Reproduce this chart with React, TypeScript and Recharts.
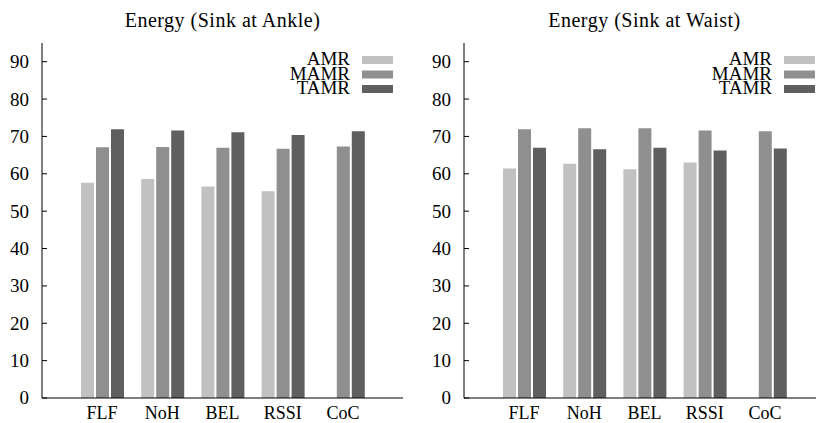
import { Bar, BarChart, Legend, XAxis, YAxis } from 'recharts'

const categories = ['FLF', 'NoH', 'BEL', 'RSSI', 'CoC']

const ankleAMR = [57.6, 58.6, 56.6, 55.3, null]
const ankleMAMR = [67.1, 67.2, 67.0, 66.7, 67.3]
const ankleTAMR = [71.9, 71.6, 71.1, 70.4, 71.4]

const waistAMR = [61.4, 62.7, 61.2, 63.0, null]
const waistMAMR = [71.9, 72.2, 72.2, 71.6, 71.4]
const waistTAMR = [67.0, 66.6, 67.0, 66.2, 66.8]

const yTicks = [0, 10, 20, 30, 40, 50, 60, 70, 80, 90]

const SERIES = [
  { key: 'AMR', color: '#c1c1c1' },
  { key: 'MAMR', color: '#8f8f8f' },
  { key: 'TAMR', color: '#5f5f5f' },
]

const FONT = '"Liberation Serif", "Times New Roman", serif'

const LeftTick = (props: any) => {
  const { x, y, payload } = props
  return (
    <g>
      <line x1={x + 13} x2={x + 18} y1={y} y2={y} stroke="#000" />
      <text x={x} y={y} dy="0.34em" textAnchor="end" fontSize={19} style={{ fontFamily: FONT }} fill="#000">
        {payload.value}
      </text>
    </g>
  )
}

const RightTick = (props: any) => {
  const { x, y } = props
  return <line x1={x - 5} x2={x} y1={y} y2={y} stroke="#000" />
}

// gnuplot-style key: labels right-aligned, sample boxes to their right
const renderLegend = (props: any) => {
  const payload = props.payload ?? []
  return (
    <svg width={110} height={60} style={{ overflow: 'visible' }}>
      {payload.map((entry: any, i: number) => (
        <g key={entry.value}>
          <text
            x={60}
            y={21 + 14.5 * i}
            textAnchor="end"
            fontSize={19}
            style={{ fontFamily: FONT }}
            fill="#000"
          >
            {entry.value}
          </text>
          <rect x={72} y={21 + 14.5 * i - 9} width={31} height={8} fill={entry.color} />
        </g>
      ))}
    </svg>
  )
}

type PanelProps = {
  title: string
  amr: (number | null)[]
  mamr: number[]
  tamr: number[]
  left: number
}

function EnergyPanel({ title, amr, mamr, tamr, left }: PanelProps) {
  const rows = categories.map((name, i) => ({
    name,
    AMR: amr[i],
    MAMR: mamr[i],
    TAMR: tamr[i],
  }))

  return (
    <div style={{ position: 'absolute', left, top: 0, width: 410, height: 423 }}>
      <div
        style={{
          position: 'absolute',
          left: 42,
          width: 361,
          top: 8,
          textAlign: 'center',
          fontSize: 20,
          lineHeight: '24px',
          letterSpacing: '0.5px',
          fontFamily: FONT,
          color: '#000',
        }}
      >
        {title}
      </div>
      <BarChart
        width={410}
        height={423}
        data={rows}
        margin={{ top: 43, right: 7, bottom: 0, left: 0 }}
        barSize={13}
        barGap={2}
      >
        <XAxis
          dataKey="name"
          height={25}
          padding={{ left: 30, right: 30 }}
          tickLine={false}
          axisLine={{ stroke: '#000' }}
          tick={{ fill: '#000', fontSize: 18, fontFamily: FONT }}
          interval={0}
        />
        <XAxis
          xAxisId="top"
          orientation="top"
          dataKey="name"
          height={0}
          padding={{ left: 30, right: 30 }}
          tick={false}
          tickLine={false}
          axisLine={{ stroke: '#000' }}
        />
        <YAxis
          width={42}
          type="number"
          domain={[0, 95]}
          ticks={yTicks}
          tickSize={0}
          tickMargin={13}
          axisLine={{ stroke: '#000' }}
          tick={<LeftTick />}
          interval={0}
        />
        <YAxis
          yAxisId="right"
          orientation="right"
          width={0}
          type="number"
          domain={[0, 95]}
          ticks={yTicks}
          tickSize={0}
          tickMargin={0}
          axisLine={{ stroke: '#000' }}
          tick={<RightTick />}
          interval={0}
        />
        <Legend
          layout="horizontal"
          verticalAlign="middle"
          align="center"
          content={renderLegend}
          wrapperStyle={{ top: 44, left: 290, width: 110, height: 60 }}
        />
        {SERIES.map((s) => (
          <Bar key={s.key} dataKey={s.key} name={s.key} fill={s.color} isAnimationActive={false} />
        ))}
      </BarChart>
    </div>
  )
}

export default function App() {
  return (
    <div
      style={{
        position: 'absolute',
        left: 0,
        top: 0,
        width: 816,
        height: 423,
        overflow: 'hidden',
        background: '#fff',
        fontFamily: FONT,
      }}
    >
      <EnergyPanel title="Energy (Sink at Ankle)" amr={ankleAMR} mamr={ankleMAMR} tamr={ankleTAMR} left={0} />
      <EnergyPanel title="Energy (Sink at Waist)" amr={waistAMR} mamr={waistMAMR} tamr={waistTAMR} left={422} />
    </div>
  )
}
